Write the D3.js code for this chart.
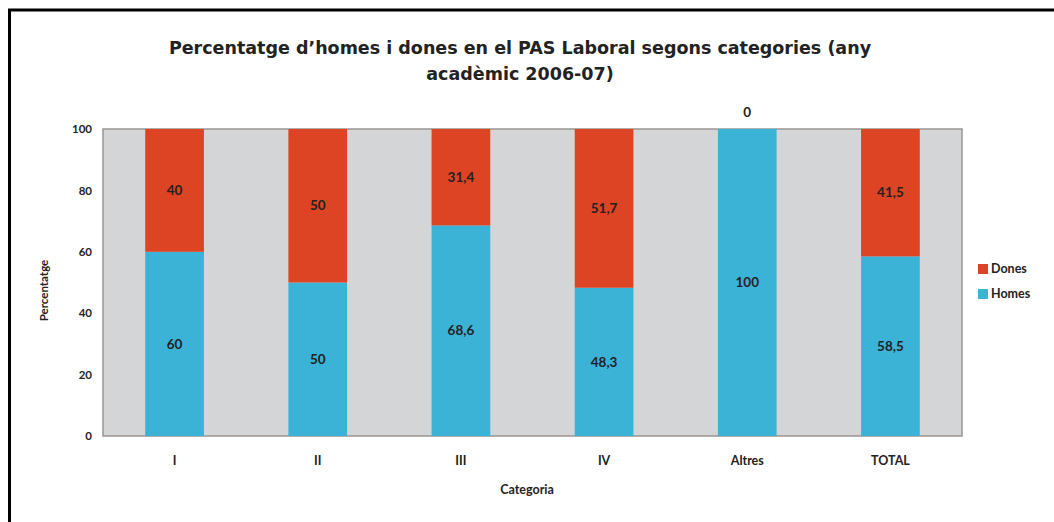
<!DOCTYPE html>
<html>
<head>
<meta charset="utf-8">
<script src="https://cdn.jsdelivr.net/npm/d3@7"></script>
<style>
  body { margin: 0; background: #fff; }
  text { font-family: Lato, "Open Sans", sans-serif; fill: #222; }
</style>
</head>
<body>
<div id="viz"></div>
<script>
// chart data
var categories = ["I", "II", "III", "IV", "Altres", "TOTAL"];
var homes = [60, 50, 68.6, 48.3, 100, 58.5];
var dones = [40, 50, 31.4, 51.7, 0, 41.5];
var yTicks = [0, 20, 40, 60, 80, 100];

var width = 1054,
    height = 522;

var margin = {left: 103, right: 92, top: 129, bottom: 86};

var svg = d3.select("#viz").append("svg")
    .attr("width", width)
    .attr("height", height);

// outer frame (left and top edges only visible)
svg.append("path")
    .attr("d", "M9.5,522 V10 H1054")
    .attr("fill", "none")
    .attr("stroke", "#000")
    .attr("stroke-width", 3);

var x = d3.scaleBand()
    .domain(categories)
    .range([margin.left, width - margin.right]);

var y = d3.scaleLinear()
    .domain([0, 100])
    .range([height - margin.bottom, margin.top]);

// plot background
svg.append("rect")
    .attr("x", x.range()[0])
    .attr("y", y(100))
    .attr("width", x.range()[1] - x.range()[0])
    .attr("height", y(0) - y(100))
    .attr("fill", "#d4d5d7")
    .attr("stroke", "#9a9592")
    .attr("stroke-width", 1.5);

var bw = x.bandwidth() * 0.41;

var rows = categories.map(function(c, i) {
    return {cat: c, homes: homes[i], dones: dones[i]};
});

var colorHomes = "#3bb3d6",
    colorDones = "#dc4423";

// Homes (bottom)
svg.append("g").selectAll("rect")
    .data(rows)
    .enter().append("rect")
    .attr("x", function(d) { return x(d.cat) + (x.bandwidth() - bw) / 2; })
    .attr("width", bw)
    .attr("y", function(d) { return y(d.homes); })
    .attr("height", function(d) { return y(0) - y(d.homes); })
    .attr("fill", colorHomes);

// Dones (top)
svg.append("g").selectAll("rect")
    .data(rows)
    .enter().append("rect")
    .attr("x", function(d) { return x(d.cat) + (x.bandwidth() - bw) / 2; })
    .attr("width", bw)
    .attr("y", function(d) { return y(d.homes + d.dones); })
    .attr("height", function(d) { return y(d.homes) - y(d.homes + d.dones); })
    .attr("fill", colorDones);

function fmt(v) { return String(v).replace(".", ","); }

// value labels
svg.append("g").selectAll("text")
    .data(rows)
    .enter().append("text")
    .attr("x", function(d) { return x(d.cat) + x.bandwidth() / 2; })
    .attr("y", function(d) { return y(d.homes / 2); })
    .attr("dy", "0.35em")
    .attr("text-anchor", "middle")
    .style("font-size", "13.5px")
    .style("font-weight", "bold")
    .text(function(d) { return fmt(d.homes); });

svg.append("g").selectAll("text")
    .data(rows)
    .enter().append("text")
    .attr("x", function(d) { return x(d.cat) + x.bandwidth() / 2; })
    .attr("y", function(d) { return d.dones > 0 ? y(d.homes + d.dones / 2) : y(100) - 17; })
    .attr("dy", "0.35em")
    .attr("text-anchor", "middle")
    .style("font-size", "13.5px")
    .style("font-weight", "bold")
    .text(function(d) { return fmt(d.dones); });

// y axis
var yAxis = svg.append("g")
    .attr("transform", "translate(" + (margin.left - 5) + ",0)")
    .call(d3.axisLeft(y).tickValues(yTicks).tickSize(0).tickPadding(6));
yAxis.select(".domain").remove();
yAxis.selectAll("text")
    .style("font-size", "11.5px")
    .style("font-weight", "bold")
    .style("font-family", "Lato, sans-serif")
    .attr("fill", "#222");

// x axis
var xAxis = svg.append("g")
    .attr("transform", "translate(0," + (y(0)) + ")")
    .call(d3.axisBottom(x).tickSize(0).tickPadding(20));
xAxis.select(".domain").remove();
xAxis.selectAll("text")
    .style("font-size", "12.5px")
    .style("font-weight", "bold")
    .style("font-family", "Lato, sans-serif")
    .attr("fill", "#222");

// axis titles
svg.append("text")
    .attr("transform", "translate(48," + (y(50) + 8) + ") rotate(-90)")
    .attr("text-anchor", "middle")
    .style("font-size", "11.5px")
    .style("font-weight", "bold")
    .text("Percentatge");

svg.append("text")
    .attr("x", 527)
    .attr("y", 494)
    .attr("text-anchor", "middle")
    .style("font-size", "12.5px")
    .style("font-weight", "bold")
    .text("Categoria");

// title
var title = svg.append("text")
    .attr("text-anchor", "middle")
    .style("font-family", "'DejaVu Sans', sans-serif")
    .style("font-size", "17.5px")
    .style("font-weight", "bold");
title.append("tspan").attr("x", 520).attr("y", 54)
    .text("Percentatge d\u2019homes i dones en el PAS Laboral segons categories (any");
title.append("tspan").attr("x", 520).attr("y", 80)
    .text("acad\u00e8mic 2006-07)");

// legend
var legend = [{name: "Dones", color: colorDones}, {name: "Homes", color: colorHomes}];
var lg = svg.append("g").selectAll("g")
    .data(legend)
    .enter().append("g")
    .attr("transform", function(d, i) { return "translate(978," + (264 + i * 25) + ")"; });
lg.append("rect")
    .attr("width", 10)
    .attr("height", 10)
    .attr("fill", function(d) { return d.color; });
lg.append("text")
    .attr("x", 13)
    .attr("y", 5)
    .attr("dy", "0.35em")
    .style("font-size", "12.5px")
    .style("font-weight", "bold")
    .text(function(d) { return d.name; });
</script>
</body>
</html>
